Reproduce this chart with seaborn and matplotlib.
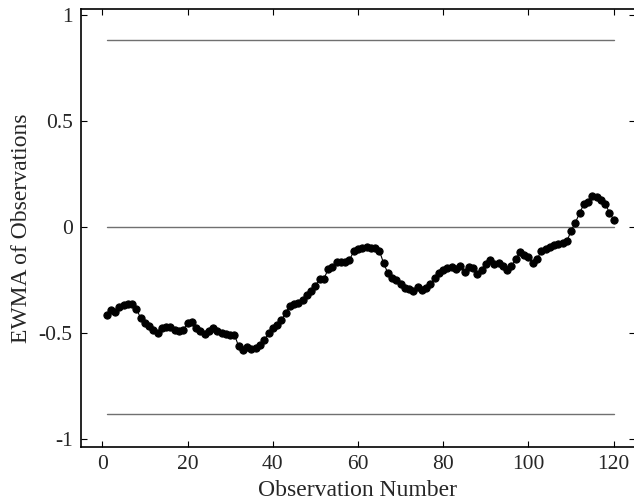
import numpy as np
import pandas as pd
import matplotlib
matplotlib.use("Agg")
import matplotlib.pyplot as plt
import seaborn as sns

# EWMA statistic for each observation
obs_number = list(range(1, 121))
ewma_values = [
    -0.414, -0.393, -0.400, -0.378, -0.368, -0.362, -0.362, -0.386, -0.430, -0.453,
    -0.466, -0.485, -0.500, -0.477, -0.472, -0.472, -0.485, -0.492, -0.485, -0.453,
    -0.450, -0.477, -0.492, -0.503, -0.492, -0.478, -0.492, -0.500, -0.505, -0.508,
    -0.508, -0.563, -0.582, -0.566, -0.576, -0.570, -0.555, -0.535, -0.500, -0.478,
    -0.462, -0.440, -0.406, -0.371, -0.364, -0.360, -0.346, -0.323, -0.300, -0.277,
    -0.243, -0.243, -0.200, -0.190, -0.164, -0.164, -0.164, -0.155, -0.115, -0.103,
    -0.097, -0.092, -0.100, -0.100, -0.111, -0.170, -0.217, -0.241, -0.249, -0.268,
    -0.288, -0.293, -0.300, -0.283, -0.296, -0.288, -0.268, -0.241, -0.217, -0.205,
    -0.194, -0.190, -0.199, -0.186, -0.214, -0.190, -0.194, -0.221, -0.202, -0.173,
    -0.155, -0.173, -0.170, -0.186, -0.202, -0.186, -0.151, -0.120, -0.131, -0.142,
    -0.170, -0.151, -0.115, -0.103, -0.095, -0.087, -0.081, -0.076, -0.068, -0.018,
    0.021, 0.065, 0.108, 0.120, 0.144, 0.141, 0.128, 0.109, 0.068, 0.034,
]

# Control limits
ucl = 0.883
center_line = 0.0
lcl = -0.883

y_ticks = [-1, -0.5, 0, 0.5, 1]
y_tick_labels = ["-1", "-0.5", "0", "0.5", "1"]
x_ticks = [0, 20, 40, 60, 80, 100, 120]

df = pd.DataFrame({"obs": obs_number, "ewma": ewma_values})

sns.set_style("ticks")
plt.rcParams["font.family"] = ["Liberation Serif", "DejaVu Serif"]
plt.rcParams["axes.unicode_minus"] = False

fig = plt.figure(figsize=(6.34, 5.04), dpi=100)
ax = fig.add_axes([81 / 634, 57.3 / 504, 554 / 634, 437.7 / 504])

# Limit lines
for level in (ucl, center_line, lcl):
    sns.lineplot(x=[obs_number[0], obs_number[-1]], y=[level, level], ax=ax,
                 color="#707070", linewidth=1.0)

# EWMA series
sns.lineplot(data=df, x="obs", y="ewma", ax=ax, color="black", linewidth=0.8,
             marker="o", markersize=5.2, markeredgecolor="black",
             markerfacecolor="black")

ax.set_xlim(-5, 125)
ax.set_ylim(-1.036, 1.028)
ax.set_xticks(x_ticks)
ax.set_yticks(y_ticks)
ax.set_yticklabels(y_tick_labels)
ax.tick_params(direction="in", length=4, width=0.8, labelsize=15.5,
               top=True, right=True, pad=6, color="black")
for s in ax.spines.values():
    s.set_linewidth(1.2)
    s.set_color("black")
# the right edge of the frame falls just outside the canvas
ax.spines["right"].set_visible(False)

ax.set_xlabel("Observation Number", fontsize=17, labelpad=4)
ax.set_ylabel("EWMA of Observations", fontsize=17, labelpad=5)

fig.savefig("out.png", dpi=100)
